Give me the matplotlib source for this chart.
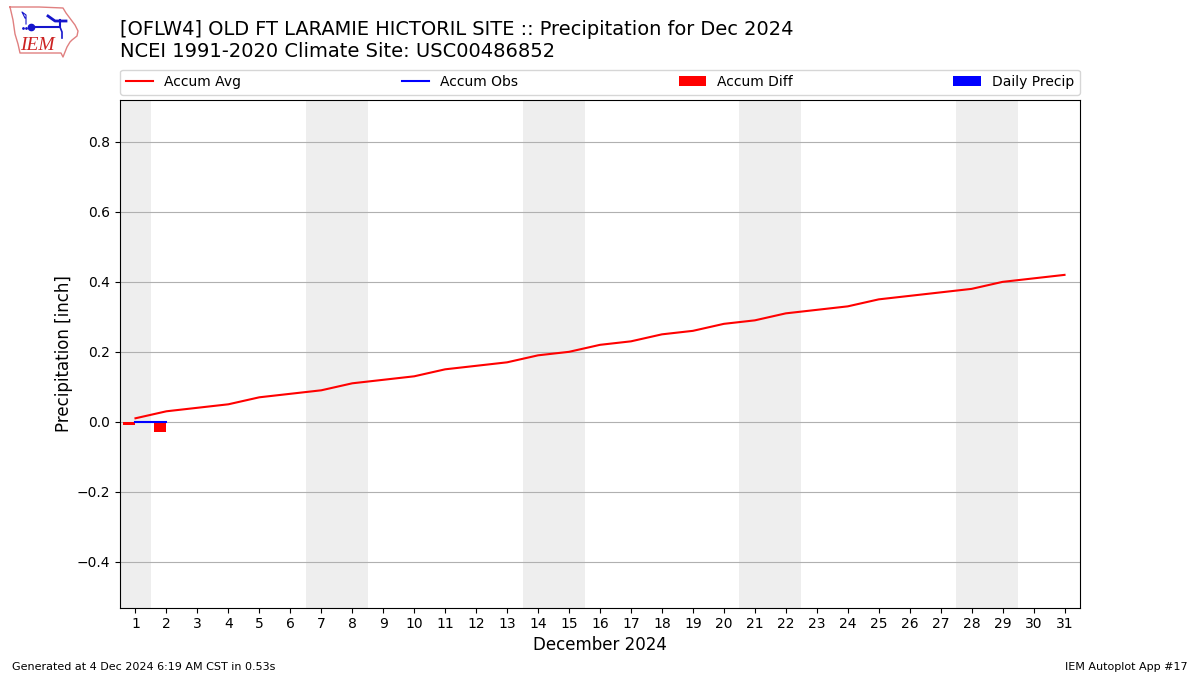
import matplotlib
matplotlib.use("Agg")
import matplotlib.pyplot as plt

days = list(range(1, 32))
accum_avg = [0.01, 0.03, 0.04, 0.05, 0.07, 0.08, 0.09, 0.11, 0.12, 0.13, 0.15,
             0.16, 0.17, 0.19, 0.20, 0.22, 0.23, 0.25, 0.26, 0.28, 0.29, 0.31,
             0.32, 0.33, 0.35, 0.36, 0.37, 0.38, 0.40, 0.41, 0.42]
obs_days = [1, 2]
accum_obs = [0.0, 0.0]
accum_diff = [-0.01, -0.03]
daily_precip = [0.0, 0.0]
weekends = [(0.5, 1.5), (6.5, 8.5), (13.5, 15.5), (20.5, 22.5), (27.5, 29.5)]

title_line1 = "[OFLW4] OLD FT LARAMIE HICTORIL SITE :: Precipitation for Dec 2024"
title_line2 = "NCEI 1991-2020 Climate Site: USC00486852"

W, H = 1200, 675
fig = plt.figure(figsize=(12, 6.75), dpi=100)
ax = fig.add_axes([120 / W, 1 - 607.5 / H, 960 / W, 507.5 / H])

for start, end in weekends:
    ax.axvspan(start, end, color="#EEEEEE", lw=0, zorder=0)

ax.plot(days, accum_avg, color="r", lw=1.5, label="Accum Avg", zorder=3)
ax.plot(obs_days, accum_obs, color="b", lw=1.5, label="Accum Obs", zorder=3)
ax.bar(obs_days, accum_diff, width=-0.4, align="edge", color="r",
       label="Accum Diff", zorder=2)
ax.bar(obs_days, daily_precip, width=0.4, align="edge", color="b",
       label="Daily Precip", zorder=2)

ax.set_xlim(0.5, 31.5)
ax.set_ylim(-0.531, 0.92)
ax.set_xticks(days)
ax.set_yticks([-0.4, -0.2, 0.0, 0.2, 0.4, 0.6, 0.8])
ax.yaxis.grid(True, color="#B0B0B0", lw=0.8)
ax.set_axisbelow(True)
ax.set_xlabel("December 2024", fontsize=12, labelpad=3.5)
ax.set_ylabel("Precipitation [inch]", fontsize=12, labelpad=3)
ax.legend(loc="lower left", bbox_to_anchor=(0, 1.0105, 1, 0.05), mode="expand",
          ncol=4, borderaxespad=0, fontsize=10)

fig.text(120 / W, 1 - 39 / H, title_line1, fontsize=13.96, ha="left", va="bottom")
fig.text(120 / W, 1 - 61 / H, title_line2, fontsize=14, ha="left", va="bottom")
fig.text(12 / W, 1 - 667 / H, "Generated at 4 Dec 2024 6:19 AM CST in 0.53s",
         fontsize=8, ha="left", va="center")
fig.text(1188 / W, 1 - 667 / H, "IEM Autoplot App #17",
         fontsize=8, ha="right", va="center")

# Small IEM logo, drawn in pixel coordinates on an overlay axes
logo = fig.add_axes([0, 1 - 60 / H, 90 / W, 60 / H])
logo.set_xlim(0, 90)
logo.set_ylim(60, 0)
logo.axis("off")
logo.plot([10, 39, 63, 66, 72, 75, 78, 77, 72, 70, 67, 65, 63, 61, 58, 20, 18, 15, 13, 10],
          [7, 7, 8, 13, 21, 25, 31, 36, 40, 42, 47, 52, 57, 53, 53, 53, 44, 34, 20, 7],
          color="#E08080", lw=1)
logo.plot([31, 60, 60], [27, 27, 20], color="#1515CC", lw=1.5)
logo.plot([48, 55, 66], [16, 21, 21], color="#1515CC", lw=2)
logo.plot([60, 62, 62], [27, 32, 38], color="#1515CC", lw=1.2)
logo.plot([25, 22, 26, 26], [18, 12, 15, 24], color="#1515CC", lw=0.8)
logo.plot([31], [27], "o", color="#1515CC", ms=4.5)
logo.plot([23, 26], [28, 28], ".", color="#1515CC", ms=2)
logo.text(20, 46, "IEM", color="#CC2222", family="Liberation Serif",
          style="italic", fontsize=14, ha="left", va="center")

fig.savefig("out.png", dpi=100)
